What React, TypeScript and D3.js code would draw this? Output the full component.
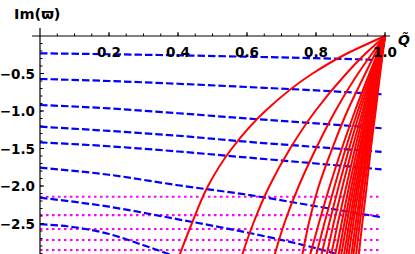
import * as d3 from 'd3';

const WIDTH = 415;
const HEIGHT = 254;

// axis tick labels
const X_TICKS = [0.2, 0.4, 0.6, 0.8, 1.0];
const Y_TICKS = [-0.5, -1.0, -1.5, -2.0, -2.5];

// blue dashed branches, Im(w) read at BLUE_Q
const BLUE_Q = [0, 0.2, 0.4, 0.6, 0.8, 0.99];
const blueIm = [
    [-0.231, -0.243, -0.258, -0.276, -0.296, -0.32],
    [-0.573, -0.6, -0.637, -0.68, -0.725, -0.777],
    [-0.92, -0.965, -1.03, -1.1, -1.165, -1.23],
    [-1.209, -1.265, -1.33, -1.41, -1.48, -1.545],
    [-1.418, -1.47, -1.54, -1.62, -1.7, -1.778],
    [-1.756, -1.85, -1.99, -2.116, -2.27, -2.417],
];
const BLUE7_Q = [0, 0.2, 0.4, 0.6, 0.8, 0.9];
const blue7Im = [-2.156, -2.276, -2.444, -2.62, -2.83, -2.96];
const BLUE8_Q = [0, 0.1, 0.2, 0.3, 0.4, 0.5];
const blue8Im = [-2.51, -2.55, -2.64, -2.79, -2.95, -3.1];

// magenta dotted (flat) levels
const MAGENTA_IM = [-2.143, -2.387, -2.573, -2.72, -2.853];
const MAGENTA_Q = [0, 0.99];

// red branches: Q read at each Im level
const RED_IM = [0, -0.25, -0.5, -1, -1.5, -2, -2.5, -3];
const redQ = [
    [1, 0.883, 0.79, 0.653, 0.556, 0.487, 0.44, 0.398],
    [1, 0.94, 0.888, 0.798, 0.725, 0.665, 0.618, 0.58],
    [1, 0.96, 0.922, 0.856, 0.8, 0.75, 0.708, 0.675],
    [1, 0.97, 0.943, 0.891, 0.847, 0.808, 0.779, 0.757],
    [1, 0.977, 0.955, 0.913, 0.875, 0.84, 0.808, 0.778],
    [1, 0.979, 0.959, 0.921, 0.886, 0.854, 0.824, 0.796],
    [1, 0.981, 0.963, 0.928, 0.896, 0.866, 0.838, 0.811],
    [1, 0.983, 0.966, 0.935, 0.905, 0.877, 0.851, 0.827],
    [1, 0.984, 0.969, 0.94, 0.913, 0.888, 0.863, 0.84],
    [1, 0.986, 0.972, 0.945, 0.92, 0.896, 0.874, 0.852],
    [1, 0.987, 0.974, 0.949, 0.926, 0.903, 0.882, 0.862],
    [1, 0.988, 0.976, 0.952, 0.93, 0.909, 0.889, 0.87],
    [1, 0.988, 0.977, 0.956, 0.935, 0.915, 0.896, 0.878],
    [1, 0.989, 0.979, 0.958, 0.939, 0.92, 0.902, 0.885],
    [1, 0.99, 0.98, 0.961, 0.943, 0.925, 0.908, 0.892],
    [1, 0.991, 0.982, 0.964, 0.947, 0.931, 0.915, 0.9],
    [1, 0.991, 0.983, 0.967, 0.951, 0.935, 0.921, 0.906],
    [1, 0.992, 0.984, 0.969, 0.955, 0.941, 0.927, 0.914],
    [1, 0.993, 0.986, 0.973, 0.959, 0.947, 0.934, 0.922],
];

const FONT = "'DejaVu Sans', sans-serif";

export default function App() {
    const x = d3.scaleLinear().domain([0, 1]).range([40, 385]);
    const y = d3.scaleLinear().domain([0, -2.9]).range([36, 253.5]);

    const lineX = d3
        .line<[number, number]>()
        .x((d) => x(d[0]))
        .y((d) => y(d[1]))
        .curve(d3.curveMonotoneX);

    const lineY = d3
        .line<[number, number]>()
        .x((d) => x(d[0]))
        .y((d) => y(d[1]))
        .curve(d3.curveMonotoneY);

    const blueSeries: [number, number][][] = [
        ...blueIm.map((row) => row.map((v, i) => [BLUE_Q[i], v] as [number, number])),
        blue7Im.map((v, i) => [BLUE7_Q[i], v] as [number, number]),
        blue8Im.map((v, i) => [BLUE8_Q[i], v] as [number, number]),
    ];

    const minorX = d3.range(1, 21).map((i) => i * 0.05);
    const minorY = d3.range(1, 30).map((i) => -i * 0.1);

    return (
        <svg width={WIDTH} height={HEIGHT} style={{ position: 'absolute', left: 0, top: 0 }}>
            <defs>
                <clipPath id="plot">
                    <rect x={32} y={0} width={360} height={HEIGHT} />
                </clipPath>
            </defs>
            <g clipPath="url(#plot)">
                {MAGENTA_IM.map((v, i) => (
                    <path
                        key={i}
                        d={lineX(MAGENTA_Q.map((q) => [q, v] as [number, number])) ?? ''}
                        fill="none"
                        stroke="#ff00ff"
                        strokeWidth={2.2}
                        strokeDasharray="2.5,3.5"
                    />
                ))}
                {blueSeries.map((s, i) => (
                    <path
                        key={i}
                        d={lineX(s) ?? ''}
                        fill="none"
                        stroke="#0000ff"
                        strokeWidth={2.2}
                        strokeDasharray="7.5,3"
                    />
                ))}
                {redQ.map((row, i) => (
                    <path
                        key={i}
                        d={lineY(row.map((q, j) => [q, RED_IM[j]] as [number, number])) ?? ''}
                        fill="none"
                        stroke="#ff0000"
                        strokeWidth={2}
                    />
                ))}
            </g>

            {/* x axis */}
            <line x1={32} x2={390} y1={y(0)} y2={y(0)} stroke="#000" strokeWidth={1.2} />
            {minorX.map((v, i) => (
                <line key={i} x1={x(v)} x2={x(v)} y1={y(0)} y2={y(0) - 2.5} stroke="#000" strokeWidth={1} />
            ))}
            {X_TICKS.map((v, i) => (
                <g key={i}>
                    <line x1={x(v)} x2={x(v)} y1={y(0)} y2={y(0) - 4} stroke="#000" strokeWidth={1} />
                    <text x={x(v)} y={y(0) + 21} textAnchor="middle" fontFamily={FONT} fontWeight="bold" fontSize={13.5}>
                        {v.toFixed(1)}
                    </text>
                </g>
            ))}
            <text x={398} y={45} fontFamily={FONT} fontWeight="bold" fontStyle="italic" fontSize={14}>
                {'Q\u0303'}
            </text>

            {/* y axis */}
            <line x1={x(0)} x2={x(0)} y1={28} y2={HEIGHT} stroke="#000" strokeWidth={1.2} />
            {minorY.map((v, i) => (
                <line key={i} x1={x(0)} x2={x(0) + 2.5} y1={y(v)} y2={y(v)} stroke="#000" strokeWidth={1} />
            ))}
            {Y_TICKS.map((v, i) => (
                <g key={i}>
                    <line x1={x(0)} x2={x(0) + 4} y1={y(v)} y2={y(v)} stroke="#000" strokeWidth={1} />
                    <text x={35} y={y(v) + 5} textAnchor="end" fontFamily={FONT} fontWeight="bold" fontSize={13.5}>
                        {'\u2212' + Math.abs(v).toFixed(1)}
                    </text>
                </g>
            ))}
            <text x={14} y={19} fontFamily={FONT} fontWeight="bold" fontSize={14.5}>
                Im(ϖ)
            </text>
        </svg>
    );
}
